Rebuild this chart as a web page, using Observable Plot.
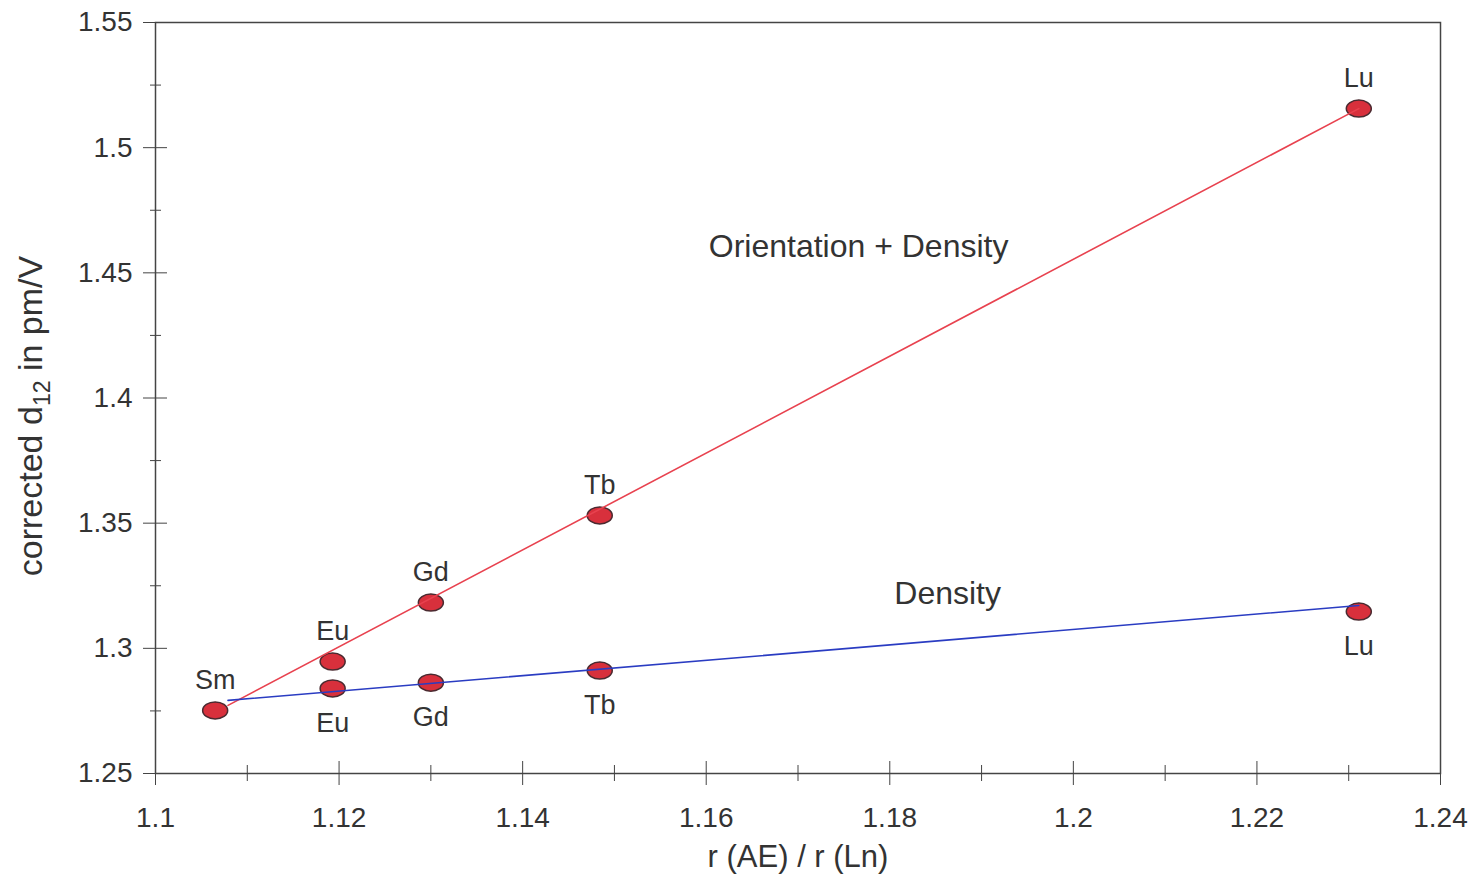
<!DOCTYPE html>
<html>
<head>
<meta charset="utf-8">
<script src="https://cdn.jsdelivr.net/npm/d3@7"></script>
<script src="https://cdn.jsdelivr.net/npm/@observablehq/plot@0.6"></script>
<style>
  html, body { margin: 0; padding: 0; background: #fff; }
</style>
</head>
<body>
<div id="chart"></div>
<script>
// ---- data ----
const elementsCombined = ["Sm", "Eu", "Gd", "Tb", "Lu"];
const ratioCombined = [1.1065, 1.1193, 1.1300, 1.1484, 1.2311];
const d12Combined = [1.2752, 1.2947, 1.3183, 1.3531, 1.5156];

const elementsDensity = ["Eu", "Gd", "Tb", "Lu"];
const ratioDensity = [1.1193, 1.1300, 1.1484, 1.2311];
const d12Density = [1.2840, 1.2863, 1.2911, 1.3147];

const fitRatio = [1.1079, 1.2311];
const fitCombined = [1.2772, 1.5156];
const fitDensity = [1.2792, 1.3171];

const annotationText = ["Orientation + Density", "Density"];
const annotationX = [1.1766, 1.1863];
const annotationY = [1.4605, 1.3219];

const xMajor = [1.1, 1.12, 1.14, 1.16, 1.18, 1.2, 1.22, 1.24];
const xMinor = [1.11, 1.13, 1.15, 1.17, 1.19, 1.21, 1.23];
const yMajor = [1.25, 1.3, 1.35, 1.4, 1.45, 1.5, 1.55];
const yMinor = [1.275, 1.325, 1.375, 1.425, 1.475, 1.525];

const xLabel = "r (AE) / r (Ln)";
const yLabel = "corrected d12 in pm/V";

// ---- tables ----
const combined = elementsCombined.map((e, i) => ({el: e, x: ratioCombined[i], y: d12Combined[i]}));
const density = elementsDensity.map((e, i) => ({el: e, x: ratioDensity[i], y: d12Density[i]}));
const fitC = fitRatio.map((x, i) => ({x, y: fitCombined[i]}));
const fitD = fitRatio.map((x, i) => ({x, y: fitDensity[i]}));
const annotations = annotationText.map((t, i) => ({t, x: annotationX[i], y: annotationY[i]}));

// ellipse symbol
const ellipse = {
  draw(ctx, size) {
    const rx = 12.5, ry = 8.5, k = 0.5523;
    ctx.moveTo(rx, 0);
    ctx.bezierCurveTo(rx, ry * k, rx * k, ry, 0, ry);
    ctx.bezierCurveTo(-rx * k, ry, -rx, ry * k, -rx, 0);
    ctx.bezierCurveTo(-rx, -ry * k, -rx * k, -ry, 0, -ry);
    ctx.bezierCurveTo(rx * k, -ry, rx, -ry * k, rx, 0);
    ctx.closePath();
  }
};

const axisColor = "#444";
const blank = () => "";

const svg = Plot.plot({
  width: 1475,
  height: 880,
  marginLeft: 155,
  marginRight: 35,
  marginTop: 22,
  marginBottom: 107,
  x: {domain: [1.1, 1.24]},
  y: {domain: [1.25, 1.55]},
  style: {fontFamily: "'Liberation Sans', Arial, Helvetica, sans-serif", color: "#333", background: "#fff"},
  marks: [
    Plot.frame({stroke: axisColor, strokeWidth: 1.5}),
    // x axis
    Plot.axisX({ticks: xMajor, tickSize: 12, tickPadding: 22, fontSize: 28, stroke: axisColor,
      tickFormat: d => String(d), label: xLabel, labelAnchor: "center", labelArrow: "none", labelOffset: 93}),
    Plot.axisX({ticks: xMajor, tickSize: -12, tickFormat: blank, label: null, stroke: axisColor}),
    Plot.axisX({ticks: xMinor, tickSize: 8, tickFormat: blank, label: null, stroke: axisColor}),
    Plot.axisX({ticks: xMinor, tickSize: -8, tickFormat: blank, label: null, stroke: axisColor}),
    // y axis
    Plot.axisY({ticks: yMajor, tickSize: 12, tickPadding: 11, fontSize: 28, stroke: axisColor,
      tickFormat: d => String(d), label: yLabel, labelAnchor: "center", labelArrow: "none", labelOffset: 138}),
    Plot.axisY({ticks: yMajor, tickSize: -12, tickFormat: blank, label: null, stroke: axisColor}),
    Plot.axisY({ticks: yMinor, tickSize: 5, tickFormat: blank, label: null, stroke: axisColor}),
    Plot.axisY({ticks: yMinor, tickSize: -6, tickFormat: blank, label: null, stroke: axisColor}),
    // dots
    Plot.dot(combined, {x: "x", y: "y", symbol: ellipse, r: 10, fill: "#d8303c", stroke: "#4a2a30", strokeWidth: 1.5}),
    Plot.dot(density, {x: "x", y: "y", symbol: ellipse, r: 10, fill: "#d8303c", stroke: "#4a2a30", strokeWidth: 1.5}),
    // fit lines
    Plot.line(fitC, {x: "x", y: "y", stroke: "#e8424f", strokeWidth: 1.6}),
    Plot.line(fitD, {x: "x", y: "y", stroke: "#2a3cc2", strokeWidth: 1.6}),
    // point labels
    Plot.text(combined, {x: "x", y: "y", text: "el", dy: -30, fontSize: 27, fill: "#333"}),
    Plot.text(density, {x: "x", y: "y", text: "el", dy: 35, fontSize: 27, fill: "#333"}),
    // annotations
    Plot.text(annotations, {x: "x", y: "y", text: "t", fontSize: 32, fill: "#333"})
  ]
});

document.getElementById("chart").appendChild(svg);

// subscript for the y label and sizes of axis titles
const yl = svg.querySelector('[aria-label="y-axis label"] text');
if (yl) {
  yl.setAttribute("font-size", 34);
  yl.setAttribute("dx", -18);
  yl.textContent = "";
  const ns = "http://www.w3.org/2000/svg";
  const parts = [["corrected d", null], ["12", "sub"], [" in pm/V", null]];
  for (const [t, kind] of parts) {
    const ts = document.createElementNS(ns, "tspan");
    ts.textContent = t;
    if (kind === "sub") { ts.setAttribute("font-size", 23); ts.setAttribute("dy", "0.35em"); }
    else if (t.startsWith(" in")) { ts.setAttribute("dy", "-0.24em"); }
    yl.appendChild(ts);
  }
}
const xl = svg.querySelector('[aria-label="x-axis label"] text');
if (xl) xl.setAttribute("font-size", 31);
</script>
</body>
</html>
